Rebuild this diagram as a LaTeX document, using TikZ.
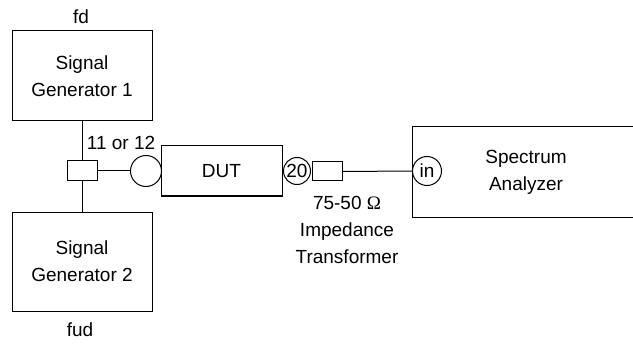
\documentclass[tikz,border=0pt]{standalone}
\usepackage{fontspec}
\setmainfont{Liberation Sans}
\newfontfamily\omfont{Liberation Serif}
\begin{document}
\begin{tikzpicture}[x=1pt,y=-1pt, line width=1pt,
  every node/.style={font=\fontsize{19}{27}\selectfont, inner sep=0pt},
  box/.style={draw, align=center},
  port/.style={draw, circle, inner sep=0pt},
  lbl/.style={align=center}]
\useasboundingbox (0,0) rectangle (633,345);
\clip (0,0) rectangle (633,345);
\node[box, minimum width=140pt, minimum height=90pt] (sg1) at (82,76) {Signal\\Generator 1};
\node[box, minimum width=140pt, minimum height=99pt] (sg2) at (82,261.5) {Signal\\Generator 2};
\node[box, minimum width=30pt, minimum height=20pt] (sp) at (82,171) {};
\node[port, minimum size=31pt] (c1) at (146,171) {};
\node[box, minimum width=121pt, minimum height=50pt] (dut) at (221.5,171) {DUT};
\node[port, minimum size=27pt] (c20) at (297,171) {20};
\node[box, minimum width=30pt, minimum height=19pt] (tr) at (327,171.5) {};
\node[port, minimum size=29pt] (cin) at (427,171) {in};
\node[box, minimum width=228pt, minimum height=90pt, text width=228pt] (sa) at (526,172) {Spectrum\\Analyzer};
\node (fd) at (81,17) {fd};
\node (fud) at (80,330) {fud};
\node (lab1) at (121,143) {11 or 12};
\node[lbl] (lab2) at (347,230) {75-50 {\omfont Ω}\\Impedance\\Transformer};
\draw (sg1.south) -- (sp.north);
\draw (sp.south) -- (sg2.north);
\draw (sp.east) -- (c1.west);
\draw (tr.east) -- (cin.west);
\end{tikzpicture}
\end{document}
